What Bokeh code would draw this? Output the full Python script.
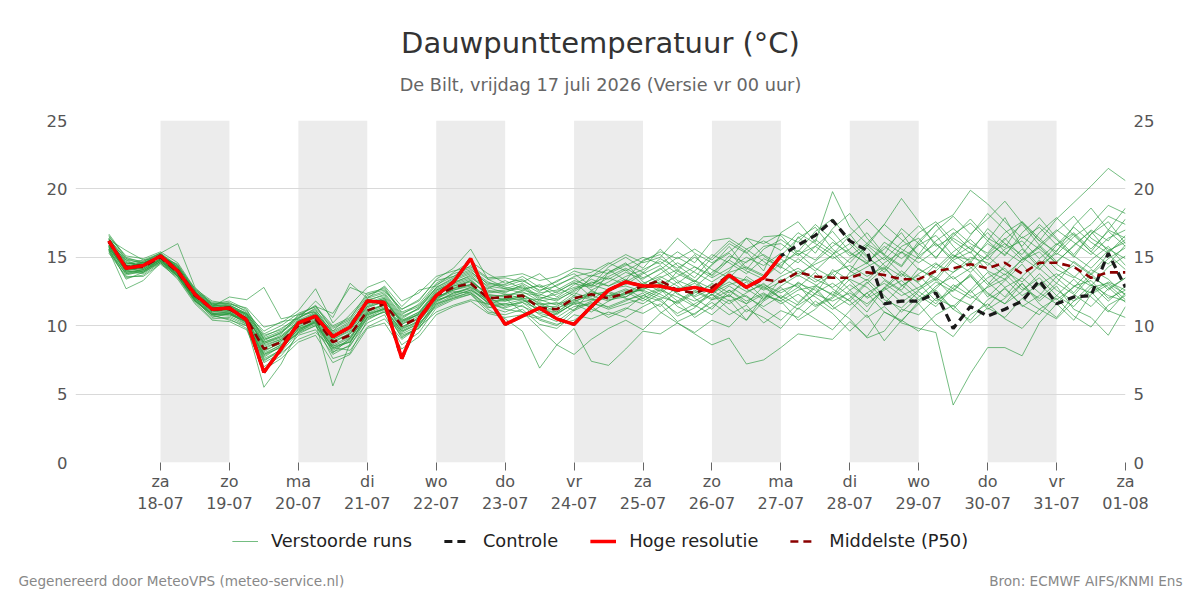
from bokeh.plotting import figure
from bokeh.layouts import column
from bokeh.models import (Range1d, FixedTicker, LinearAxis, BoxAnnotation, Label,
                          Legend, LegendItem)
from bokeh.embed import file_html
from bokeh.resources import INLINE

# ---------------- data ----------------
# hours since vr 17-07-2026 00:00, 6-hourly steps
hours = [6 * (i + 1) for i in range(60)]

tick_hours = [24, 48, 72, 96, 120, 144, 168, 192, 216, 240, 264, 288, 312, 336, 360]
tick_days = ["za", "zo", "ma", "di", "wo", "do", "vr", "za", "zo", "ma", "di", "wo", "do", "vr", "za"]
tick_dates = ["18-07", "19-07", "20-07", "21-07", "22-07", "23-07", "24-07", "25-07",
              "26-07", "27-07", "28-07", "29-07", "30-07", "31-07", "01-08"]
shaded_day_starts = [24, 72, 120, 168, 216, 264, 312]

hoge_resolutie = [16.2, 14.2, 14.4, 15.1, 14.0, 12.3, 11.2, 11.3, 10.4, 6.6,
                  8.3, 10.2, 10.7, 9.2, 9.9, 11.8, 11.7, 7.6, 10.5, 12.2,
                  13.2, 14.9, 12.0, 10.1, 10.7, 11.3, 10.5, 10.1, 11.4, 12.6,
                  13.2, 12.9, 12.9, 12.6, 12.8, 12.5, 13.7, 12.8, 13.5, 15.1]

controle = [16.2, 14.2, 14.4, 15.1, 14.0, 12.3, 11.2, 11.3, 10.4, 6.6,
            8.3, 10.2, 10.7, 9.2, 9.9, 11.8, 11.7, 7.6, 10.5, 12.2,
            13.2, 14.9, 12.0, 10.1, 10.7, 11.3, 10.5, 10.1, 11.4, 12.6,
            13.2, 12.9, 12.9, 12.6, 12.8, 12.5, 13.7, 12.8, 13.5, 15.1,
            15.9, 16.6, 17.7, 16.2, 15.5, 11.6, 11.8, 11.8, 12.4, 9.8,
            11.4, 10.7, 11.2, 11.8, 13.3, 11.6, 12.1, 12.2, 15.3, 12.8]

middelste_p50 = [16.1, 14.3, 14.3, 15.0, 13.9, 12.2, 11.2, 11.2, 10.5, 8.3,
                 8.8, 10.0, 10.5, 8.8, 9.3, 11.1, 11.6, 10.0, 10.6, 12.2,
                 12.8, 13.1, 12.0, 12.1, 12.2, 11.3, 11.2, 12.0, 12.3, 12.0,
                 12.4, 12.9, 13.3, 12.6, 12.4, 12.8, 13.7, 12.8, 13.4, 13.2,
                 13.9, 13.6, 13.5, 13.5, 13.9, 13.7, 13.4, 13.4, 14.0, 14.2,
                 14.5, 14.2, 14.6, 13.8, 14.6, 14.6, 14.3, 13.5, 13.9, 13.9]

verstoorde_runs = [
    [16.7, 15.0, 14.6, 15.3, 16.0, 12.8, 11.6, 11.8, 11.2, 9.0, 9.5, 10.6, 11.2, 9.4, 10.1, 11.9, 12.2, 10.6, 11.3, 12.8,
     13.5, 14.0, 12.8, 12.4, 13.0, 12.1, 11.8, 12.6, 13.4, 12.9, 13.6, 14.1, 14.7, 13.8, 13.2, 14.5, 15.3, 14.1, 15.6, 16.3,
     15.4, 16.9, 17.8, 16.2, 15.0, 14.1, 15.8, 16.4, 14.9, 16.7, 17.5, 16.2, 15.1, 16.8, 17.9, 16.4, 15.2, 16.7, 18.0, 17.4],
    [15.5, 12.7, 13.3, 14.6, 13.6, 11.9, 10.8, 10.4, 10.0, 5.5, 7.2, 9.6, 10.1, 7.6, 8.0, 10.4, 11.1, 9.3, 9.8, 11.6,
     12.0, 12.5, 11.4, 11.0, 11.5, 10.4, 10.0, 11.1, 11.7, 11.2, 11.6, 12.0, 12.7, 11.4, 10.8, 11.9, 12.6, 11.6, 12.9, 12.0,
     11.2, 12.4, 13.1, 12.2, 11.0, 12.8, 11.7, 12.6, 13.4, 12.1, 11.5, 12.9, 13.8, 12.6, 13.5, 12.2, 11.4, 12.8, 13.1, 12.3],
    [16.0, 14.8, 14.2, 15.2, 14.3, 12.5, 11.4, 12.1, 11.9, 12.8, 10.5, 10.8, 11.4, 10.9, 12.8, 12.3, 12.6, 11.2, 11.8, 13.4,
     14.2, 15.6, 13.4, 12.8, 12.6, 13.0, 12.4, 13.2, 12.1, 13.9, 14.6, 13.2, 12.5, 14.0, 15.2, 13.6, 14.8, 16.4, 15.1, 14.2,
     16.5, 15.3, 17.1, 18.2, 16.4, 15.1, 14.3, 16.0, 17.4, 15.8, 14.6, 16.2, 17.9, 15.7, 14.4, 15.9, 17.2, 16.1, 15.3, 16.6],
    [15.8, 13.9, 14.0, 14.8, 13.8, 12.0, 10.9, 11.0, 10.2, 7.6, 8.2, 9.8, 10.2, 5.6, 8.7, 10.9, 11.4, 9.8, 10.3, 11.9,
     12.7, 13.3, 12.2, 11.8, 12.0, 11.0, 10.8, 11.7, 11.4, 10.6, 11.2, 12.2, 11.8, 10.9, 11.6, 12.3, 11.2, 10.4, 11.8, 12.6,
     13.0, 11.5, 12.1, 13.4, 12.8, 11.6, 12.9, 13.7, 12.4, 11.2, 12.6, 13.9, 12.8, 11.4, 12.2, 13.6, 14.4, 13.0, 11.8, 12.9],
    [16.3, 15.5, 14.8, 15.0, 14.5, 12.6, 11.7, 11.5, 10.9, 9.6, 10.3, 10.5, 11.8, 10.6, 13.1, 12.0, 12.9, 11.4, 12.6, 12.9,
     13.9, 14.7, 13.8, 13.1, 13.4, 12.5, 13.3, 13.8, 12.9, 14.3, 15.0, 14.2, 15.6, 14.4, 13.5, 15.0, 16.2, 15.4, 14.0, 16.8,
     17.6, 16.1, 19.8, 17.2, 16.0, 17.4, 16.3, 15.2, 16.9, 18.0, 16.7, 17.8, 19.1, 17.5, 16.2, 15.4, 17.3, 18.6, 17.0, 16.4],
    [15.9, 14.0, 13.8, 14.7, 13.7, 12.0, 10.9, 10.8, 10.3, 8.0, 8.6, 9.4, 10.0, 8.2, 8.9, 10.6, 11.0, 9.5, 10.2, 11.4,
     12.0, 12.3, 11.2, 10.5, 9.6, 6.9, 8.6, 9.8, 7.4, 7.1, 8.3, 9.6, 9.4, 10.2, 9.5, 10.4, 9.9, 11.2, 10.6, 9.8,
     11.3, 10.5, 9.7, 11.1, 12.4, 11.0, 10.3, 11.8, 12.6, 11.2, 10.4, 11.9, 12.7, 11.5, 10.8, 12.2, 13.4, 12.1, 11.0, 12.4],
    [16.1, 14.4, 14.5, 15.1, 14.1, 12.3, 11.3, 11.1, 10.6, 8.7, 9.1, 10.2, 10.8, 9.0, 9.6, 11.3, 11.8, 10.2, 10.9, 12.4,
     12.9, 13.2, 12.4, 12.5, 12.8, 11.9, 11.5, 12.4, 12.0, 11.3, 11.8, 12.4, 11.0, 10.2, 9.4, 8.6, 9.1, 7.2, 7.5, 8.4,
     9.4, 9.2, 9.0, 10.3, 9.2, 11.0, 10.4, 9.6, 10.8, 11.5, 10.2, 11.3, 10.6, 12.0, 11.2, 10.5, 11.8, 12.5, 11.1, 10.6],
    [15.7, 14.1, 14.2, 14.9, 13.9, 12.1, 11.0, 11.3, 10.5, 8.4, 8.9, 9.9, 10.4, 8.6, 9.2, 11.0, 11.5, 9.9, 10.5, 12.1,
     12.6, 12.9, 11.8, 11.9, 12.1, 11.2, 11.0, 11.8, 12.2, 11.8, 12.3, 12.7, 13.1, 12.4, 11.5, 10.8, 11.9, 10.4, 12.2, 11.8,
     10.4, 11.2, 12.5, 11.8, 10.6, 11.4, 10.2, 9.8, 9.5, 4.2, 6.5, 8.4, 8.4, 7.8, 10.2, 11.6, 10.4, 12.3, 13.0, 11.9],
    [16.4, 14.6, 14.4, 15.2, 14.2, 12.4, 11.3, 11.4, 10.8, 8.8, 9.3, 10.3, 10.9, 9.2, 10.0, 11.6, 12.0, 10.4, 11.0, 12.6,
     13.2, 13.6, 12.5, 12.6, 12.9, 12.0, 12.3, 12.8, 13.1, 13.6, 14.2, 13.5, 14.1, 15.0, 14.3, 13.7, 15.1, 14.6, 15.8, 16.0,
     15.1, 16.3, 15.4, 14.0, 15.8, 17.4, 19.3, 17.6, 15.8, 16.5, 17.8, 16.4, 15.7, 17.6, 16.2, 17.8, 19.0, 20.2, 21.5, 20.6],
    [15.6, 13.4, 13.9, 14.6, 13.6, 11.8, 10.7, 10.5, 9.8, 7.0, 7.8, 9.3, 9.7, 7.9, 8.6, 10.2, 10.8, 8.6, 9.5, 11.3,
     11.9, 12.3, 11.0, 10.8, 11.2, 10.1, 9.8, 10.8, 10.5, 11.0, 10.6, 11.4, 12.0, 10.7, 11.3, 12.6, 11.8, 12.2, 11.2, 10.4,
     11.6, 12.8, 11.4, 12.6, 13.4, 12.2, 11.0, 12.1, 13.2, 12.5, 13.8, 12.4, 11.6, 13.1, 11.8, 12.9, 11.2, 10.6, 9.3, 11.4],
    [16.2, 14.2, 14.7, 15.3, 14.4, 12.5, 11.5, 11.7, 11.0, 9.2, 9.8, 10.6, 11.1, 9.8, 10.4, 12.0, 12.4, 10.8, 11.6, 13.1,
     13.8, 14.2, 13.0, 12.9, 13.3, 12.6, 12.9, 13.6, 13.9, 14.6, 14.0, 14.7, 15.4, 14.9, 15.6, 14.8, 16.0, 15.3, 16.5, 16.6,
     15.2, 15.8, 16.9, 15.4, 14.5, 16.1, 15.3, 16.8, 17.6, 16.2, 15.3, 17.1, 16.0, 15.2, 16.8, 17.9, 16.6, 15.4, 17.0, 18.6],
    [15.3, 13.6, 13.6, 14.5, 13.5, 11.7, 10.5, 10.6, 10.0, 7.3, 8.0, 9.0, 9.5, 8.4, 8.2, 9.9, 10.5, 9.0, 9.9, 11.0,
     11.5, 11.9, 11.6, 11.3, 11.7, 10.8, 10.3, 11.2, 11.8, 12.2, 12.7, 12.0, 11.4, 12.6, 13.3, 12.2, 13.5, 12.7, 11.9, 13.4,
     12.8, 13.9, 12.7, 11.8, 13.1, 14.2, 13.0, 11.9, 12.7, 13.9, 14.7, 13.2, 12.1, 13.6, 14.8, 13.5, 12.4, 13.8, 15.2, 14.1],
    [16.5, 15.1, 14.9, 15.4, 14.6, 12.7, 11.8, 11.6, 11.3, 9.9, 10.2, 11.1, 12.7, 10.2, 11.5, 12.8, 13.3, 11.8, 12.4, 13.6,
     14.0, 14.3, 13.4, 13.5, 13.2, 13.8, 12.8, 12.2, 13.6, 14.1, 13.3, 14.8, 15.2, 14.0, 13.2, 14.4, 15.8, 14.2, 13.6, 15.1,
     16.4, 17.2, 15.6, 14.6, 15.9, 14.8, 16.1, 17.3, 16.0, 14.9, 16.6, 18.2, 17.0, 15.8, 17.4, 16.3, 15.0, 16.7, 17.6, 16.0],
    [15.4, 13.8, 14.1, 14.8, 13.8, 11.9, 10.6, 10.9, 10.1, 7.9, 8.4, 9.7, 10.3, 8.0, 9.1, 10.8, 11.2, 9.6, 10.1, 11.7,
     12.4, 12.7, 11.7, 11.6, 11.9, 11.5, 11.7, 11.1, 12.6, 11.9, 12.1, 12.8, 12.3, 11.6, 12.4, 13.0, 12.1, 13.6, 12.8, 12.0,
     13.2, 12.3, 14.1, 13.3, 12.0, 12.7, 13.8, 12.6, 14.0, 15.2, 14.3, 13.0, 14.4, 15.6, 14.2, 13.1, 14.7, 13.8, 12.6, 13.5],
    [15.9, 14.3, 13.9, 14.9, 13.7, 12.2, 11.1, 10.9, 10.4, 8.1, 8.8, 10.1, 10.6, 8.8, 9.4, 11.2, 11.5, 10.1, 10.7, 12.0,
     12.5, 12.4, 11.5, 12.0, 11.0, 9.8, 8.6, 7.9, 9.0, 9.8, 10.4, 9.7, 10.9, 11.8, 10.6, 11.4, 12.3, 11.0, 11.9, 12.8,
     11.7, 12.9, 13.8, 12.6, 11.4, 12.8, 14.0, 13.1, 11.8, 12.6, 13.7, 12.1, 13.3, 14.5, 13.0, 11.9, 12.8, 14.1, 13.4, 12.2],
    [16.0, 14.5, 14.6, 15.1, 14.2, 12.3, 11.4, 11.3, 10.7, 8.5, 9.0, 10.4, 10.7, 9.1, 9.8, 11.4, 11.9, 10.3, 10.8, 12.3,
     13.0, 13.4, 12.2, 12.2, 12.5, 11.8, 12.0, 12.7, 13.0, 12.6, 13.2, 13.9, 13.0, 13.6, 14.3, 13.5, 14.2, 15.0, 14.4, 15.3,
     14.6, 15.8, 14.9, 15.6, 16.8, 15.2, 14.4, 16.2, 17.4, 18.1, 19.9, 18.9, 17.6, 16.4, 17.2, 15.9, 16.8, 15.6, 16.9, 15.8],
    [15.7, 14.0, 14.0, 14.7, 13.9, 12.0, 11.0, 11.0, 10.3, 7.7, 8.5, 9.5, 10.0, 8.5, 8.8, 10.7, 11.3, 9.4, 10.0, 11.8,
     12.3, 12.8, 12.1, 11.4, 11.8, 11.6, 11.0, 11.9, 11.3, 12.4, 12.0, 11.6, 12.4, 13.2, 12.0, 11.2, 12.6, 11.8, 12.4, 11.6,
     12.3, 11.4, 12.0, 13.0, 12.1, 13.3, 12.5, 11.6, 12.9, 13.6, 12.4, 13.5, 14.2, 12.8, 12.0, 13.1, 12.3, 11.4, 12.7, 13.5],
    [16.6, 14.9, 14.5, 15.0, 14.0, 12.4, 11.5, 11.4, 10.8, 9.3, 9.7, 10.7, 11.5, 9.6, 10.8, 12.2, 12.8, 11.0, 11.5, 12.7,
     13.3, 13.8, 12.9, 12.7, 12.4, 12.2, 13.0, 13.5, 12.6, 13.2, 13.9, 13.4, 14.2, 13.1, 14.0, 15.2, 14.6, 13.8, 14.9, 14.3,
     13.6, 14.7, 15.8, 16.7, 15.1, 13.9, 15.4, 14.6, 15.5, 16.8, 15.6, 14.8, 16.3, 17.4, 15.9, 14.7, 15.8, 17.0, 16.2, 17.8],
    [15.5, 13.5, 13.7, 14.6, 13.4, 11.6, 10.4, 10.3, 9.7, 6.8, 7.6, 8.8, 9.3, 7.3, 7.9, 9.8, 10.2, 8.3, 9.2, 10.8,
     11.4, 11.8, 10.9, 10.6, 10.8, 10.5, 10.1, 10.4, 11.2, 10.8, 11.3, 10.9, 11.6, 10.3, 10.9, 11.7, 10.8, 11.5, 10.2, 11.1,
     10.6, 11.8, 10.9, 9.6, 10.8, 8.9, 10.4, 11.6, 10.1, 9.2, 10.8, 11.6, 10.5, 9.8, 11.2, 12.0, 10.7, 9.9, 11.5, 12.2],
    [16.2, 14.7, 14.3, 15.2, 14.3, 12.5, 11.6, 11.2, 10.9, 9.0, 9.4, 10.8, 11.0, 9.3, 9.9, 11.7, 12.1, 10.5, 11.3, 12.6,
     13.1, 13.5, 12.7, 13.3, 12.7, 12.9, 12.1, 13.0, 13.7, 13.4, 14.1, 13.0, 13.8, 14.6, 13.9, 13.2, 14.0, 15.6, 14.7, 13.8,
     14.9, 14.0, 15.2, 16.0, 14.7, 15.6, 16.8, 15.0, 14.2, 15.4, 16.3, 15.1, 16.0, 14.8, 15.7, 16.9, 18.0, 16.4, 15.6, 14.9],
    [15.8, 14.2, 14.2, 14.8, 13.6, 11.8, 10.8, 10.7, 10.1, 7.4, 8.3, 9.6, 10.4, 8.3, 9.0, 10.9, 11.2, 9.7, 10.4, 11.9,
     12.2, 12.6, 11.9, 12.3, 12.3, 11.4, 11.4, 12.2, 11.9, 12.7, 12.9, 12.5, 11.9, 12.8, 12.2, 13.1, 12.4, 13.2, 12.0, 12.9,
     13.7, 13.0, 12.2, 13.9, 14.6, 13.4, 12.6, 14.2, 13.3, 14.8, 15.4, 14.0, 13.4, 14.9, 15.8, 14.5, 13.6, 12.9, 14.3, 15.1],
    [16.1, 14.3, 14.6, 15.0, 14.1, 12.3, 11.3, 11.3, 10.6, 8.6, 9.0, 10.1, 10.6, 9.0, 9.7, 11.4, 11.7, 10.4, 10.8, 12.3,
     12.8, 13.0, 12.1, 11.9, 12.3, 11.6, 11.6, 11.9, 12.5, 12.1, 12.6, 12.6, 13.4, 12.3, 11.8, 12.5, 13.2, 12.5, 13.0, 12.4,
     13.1, 12.6, 11.4, 10.5, 9.1, 9.6, 11.2, 10.8, 12.0, 11.4, 12.6, 11.2, 12.0, 13.1, 11.6, 10.6, 12.2, 13.6, 12.8, 11.7],
    [16.3, 14.5, 14.8, 15.3, 14.2, 12.4, 11.4, 11.5, 10.8, 8.9, 9.5, 10.4, 11.0, 9.5, 10.2, 11.8, 12.3, 10.7, 11.2, 12.8,
     13.4, 13.9, 13.1, 13.0, 13.6, 12.8, 13.2, 14.0, 13.6, 14.5, 15.2, 14.6, 15.0, 16.4, 15.3, 14.6, 15.4, 16.4, 16.0, 16.7,
     16.1, 17.4, 16.3, 15.1, 16.0, 15.2, 17.1, 16.0, 15.0, 16.4, 15.6, 16.8, 15.4, 14.6, 15.9, 17.0, 16.1, 15.2, 16.4, 17.0],
    [15.6, 13.8, 13.9, 14.7, 13.7, 11.9, 10.8, 10.9, 10.2, 7.8, 8.5, 9.7, 10.2, 8.4, 8.8, 10.5, 11.0, 9.2, 9.8, 11.5,
     12.1, 12.4, 11.3, 11.6, 11.4, 10.9, 10.6, 11.4, 11.6, 11.4, 11.9, 12.2, 12.8, 11.8, 12.6, 12.0, 12.9, 12.1, 11.4, 12.2,
     11.5, 12.3, 11.8, 12.4, 11.6, 12.6, 13.3, 12.2, 11.4, 12.8, 13.6, 12.3, 11.6, 12.5, 13.8, 12.6, 11.8, 13.0, 12.2, 11.8],
    [16.4, 14.8, 14.6, 15.1, 14.3, 12.6, 11.6, 11.6, 11.1, 9.4, 10.0, 10.9, 11.4, 10.0, 10.6, 12.1, 12.5, 11.2, 11.9, 13.3,
     13.6, 14.4, 13.5, 13.6, 13.8, 13.3, 13.6, 14.2, 14.1, 13.8, 14.4, 15.0, 14.5, 15.4, 14.6, 16.2, 16.4, 15.6, 16.2, 15.5,
     16.8, 16.0, 15.2, 16.6, 17.8, 16.5, 15.6, 14.9, 16.2, 17.1, 16.0, 15.3, 16.8, 17.6, 16.4, 15.2, 16.5, 17.4, 18.8, 18.2],
    [15.9, 14.1, 14.1, 14.9, 13.8, 12.1, 11.1, 11.2, 10.4, 8.2, 8.7, 9.9, 10.5, 8.7, 9.5, 11.0, 11.6, 9.9, 10.6, 12.1,
     12.6, 13.0, 12.0, 12.0, 11.9, 11.1, 11.3, 11.7, 12.4, 12.2, 12.3, 13.1, 13.6, 12.9, 12.1, 12.7, 13.7, 13.3, 12.6, 13.2,
     14.0, 13.2, 13.9, 14.4, 13.6, 14.3, 12.9, 13.8, 14.6, 13.4, 14.2, 15.1, 14.0, 13.2, 14.4, 15.3, 14.6, 13.7, 14.9, 15.7],
    [16.0, 14.6, 14.4, 15.2, 14.0, 12.2, 11.2, 11.0, 10.5, 8.8, 9.2, 10.3, 10.9, 9.6, 10.3, 11.6, 12.0, 10.1, 10.9, 12.5,
     13.1, 13.7, 12.6, 12.3, 12.0, 11.9, 12.5, 13.1, 12.8, 13.5, 13.0, 13.8, 14.4, 13.3, 12.8, 13.9, 14.8, 14.0, 13.4, 14.6,
     15.3, 14.2, 13.5, 14.9, 15.7, 14.4, 13.6, 15.1, 16.0, 14.7, 13.9, 15.2, 16.4, 15.0, 14.1, 15.5, 16.7, 15.4, 14.5, 15.9],
    [15.6, 13.7, 14.0, 14.7, 13.6, 11.8, 10.9, 10.8, 10.3, 7.5, 8.1, 9.5, 10.3, 8.1, 8.5, 10.6, 11.2, 9.1, 10.0, 11.6,
     12.2, 12.6, 11.7, 11.2, 11.0, 10.6, 10.9, 11.6, 11.0, 11.8, 12.5, 11.8, 12.6, 12.1, 11.4, 12.3, 11.6, 12.4, 13.1, 12.0,
     12.8, 12.1, 11.2, 12.0, 13.2, 11.9, 11.3, 12.5, 11.6, 13.0, 12.2, 11.4, 12.8, 13.5, 12.4, 11.6, 12.9, 13.3, 12.0, 12.6],
    [16.3, 14.9, 14.7, 15.2, 14.4, 12.7, 11.5, 11.5, 10.9, 9.1, 9.6, 10.5, 11.3, 9.9, 10.5, 12.4, 12.7, 10.9, 11.4, 13.0,
     13.6, 14.1, 13.2, 12.7, 13.1, 12.4, 12.6, 13.3, 12.9, 13.9, 14.5, 13.9, 14.9, 14.2, 15.0, 14.1, 13.5, 14.7, 15.2, 14.4,
     15.5, 14.8, 16.1, 15.3, 14.6, 15.8, 14.9, 15.9, 16.6, 15.1, 14.8, 16.0, 15.2, 16.5, 15.6, 14.6, 15.9, 16.9, 15.4, 16.3],
    [15.8, 14.0, 14.3, 14.9, 13.8, 12.0, 11.1, 11.1, 10.4, 8.3, 8.9, 10.0, 10.6, 8.9, 9.4, 11.1, 11.5, 9.8, 10.6, 12.0,
     12.7, 13.0, 11.8, 11.8, 12.2, 11.7, 11.2, 12.1, 12.3, 12.5, 12.1, 12.9, 13.2, 12.6, 13.1, 12.4, 13.0, 13.4, 12.7, 13.6,
     14.2, 13.4, 12.8, 13.6, 14.3, 15.0, 13.8, 13.2, 14.5, 13.9, 15.0, 14.6, 13.7, 14.8, 15.4, 14.1, 13.5, 14.8, 15.8, 14.4],
    [16.2, 14.4, 14.5, 15.0, 14.2, 12.2, 11.3, 11.4, 10.7, 8.7, 9.2, 10.2, 10.8, 9.2, 9.8, 11.5, 11.9, 10.3, 11.0, 12.4,
     12.9, 13.3, 12.3, 12.1, 12.6, 12.3, 11.9, 12.5, 13.2, 12.9, 13.4, 12.8, 13.5, 14.1, 13.3, 12.7, 13.9, 14.3, 13.7, 14.9,
     13.8, 14.5, 15.1, 14.0, 13.3, 14.6, 15.4, 14.1, 13.5, 15.0, 15.8, 14.4, 15.6, 16.2, 14.9, 16.0, 15.1, 14.2, 15.5, 16.1],
    [15.7, 13.9, 14.1, 14.8, 13.7, 11.9, 10.8, 10.9, 10.3, 7.9, 8.6, 9.8, 10.3, 8.5, 9.1, 10.8, 11.3, 9.6, 10.3, 11.8,
     12.4, 12.8, 11.6, 11.5, 11.7, 11.2, 10.9, 11.6, 11.9, 12.0, 12.4, 12.6, 12.1, 11.7, 12.5, 11.9, 12.2, 11.6, 12.3, 11.8,
     12.6, 12.9, 12.3, 11.5, 12.4, 13.1, 12.2, 12.8, 13.5, 12.7, 12.0, 12.8, 13.4, 12.2, 13.0, 13.8, 12.9, 12.4, 13.2, 12.6],
]

title_text = "Dauwpunttemperatuur (°C)"
subtitle_text = "De Bilt, vrijdag 17 juli 2026 (Versie vr 00 uur)"
footer_left = "Gegenereerd door MeteoVPS (meteo-service.nl)"
footer_right = "Bron: ECMWF AIFS/KNMI Ens"
legend_labels = ["Verstoorde runs", "Controle", "Hoge resolutie", "Middelste (P50)"]

FONT = "DejaVu Sans"
GREEN = "#2a9a3e"
RUN_STYLE = dict(line_color=GREEN, line_alpha=0.65, line_width=1)
CTRL_STYLE = dict(line_color="#1a1a1a", line_width=3.2, line_dash="8 5")
P50_STYLE = dict(line_color="#8b0000", line_width=2.6, line_dash="8 5")
HRES_STYLE = dict(line_color="#ff0000", line_width=3.5)

HEAD_H = 110
MAIN_BOTTOM = 55
FOOT_H = 600 - HEAD_H - 10 - 342 - MAIN_BOTTOM


def blank(height, x0):
    f = figure(width=1200, height=height, output_backend="svg", toolbar_location=None,
               x_range=Range1d(x0, x0 + 1200), y_range=Range1d(height, 0),
               x_axis_location=None, y_axis_location=None, min_border=0,
               frame_align=False,
               background_fill_color="white", border_fill_color="white")
    f.grid.visible = False
    f.outline_line_color = None
    return f


# ---------------- header ----------------
head = blank(HEAD_H, 0)
head.add_layout(Label(x=600, y=42, text=title_text, text_align="center", text_baseline="middle",
                      text_font=FONT, text_font_size="29px", text_color="#333333"))
head.add_layout(Label(x=600, y=84, text=subtitle_text, text_align="center", text_baseline="middle",
                      text_font=FONT, text_font_size="17.7px", text_color="#666666"))

# ---------------- main plot ----------------
p = figure(frame_width=1050, frame_height=342, output_backend="svg", toolbar_location=None,
           x_range=Range1d(-5.6, 360), y_range=Range1d(0, 25),
           min_border_left=75, min_border_right=75, min_border_top=10, min_border_bottom=MAIN_BOTTOM,
           frame_align=False,
           background_fill_color="white", border_fill_color="white")
p.outline_line_color = None

for s in shaded_day_starts:
    p.add_layout(BoxAnnotation(left=s, right=s + 24, fill_color="#ececec", fill_alpha=1.0,
                               line_color=None, level="image"))

p.xgrid.visible = False
p.ygrid.ticker = FixedTicker(ticks=[0, 5, 10, 15, 20, 25])
p.ygrid.grid_line_color = "#d9d9d9"
p.ygrid.grid_line_width = 1


def style_y(ax):
    ax.ticker = FixedTicker(ticks=[0, 5, 10, 15, 20, 25])
    ax.axis_line_color = None
    ax.major_tick_line_color = None
    ax.major_tick_in = 0
    ax.major_tick_out = 0
    ax.minor_tick_line_color = None
    ax.minor_tick_in = 0
    ax.minor_tick_out = 0
    ax.major_label_text_font = FONT
    ax.major_label_text_font_size = "16.5px"
    ax.major_label_text_color = "#555555"
    ax.major_label_standoff = 8


style_y(p.yaxis[0])
yr = LinearAxis()
style_y(yr)
p.add_layout(yr, "right")

xa = p.xaxis[0]
xa.ticker = FixedTicker(ticks=tick_hours)
xa.major_label_overrides = {h: f"{d}\n{dt}" for h, d, dt in zip(tick_hours, tick_days, tick_dates)}
xa.axis_line_color = None
xa.major_tick_line_color = "#666666"
xa.major_tick_in = 0
xa.major_tick_out = 8
xa.minor_tick_line_color = None
xa.major_label_text_font = FONT
xa.major_label_text_font_size = "16px"
xa.major_label_text_color = "#555555"
xa.major_label_standoff = 1

xs = [hours[:len(m)] for m in verstoorde_runs]
p.multi_line(xs, verstoorde_runs, **RUN_STYLE)
p.line(hours[:len(controle)], controle, **CTRL_STYLE)
p.line(hours[:len(middelste_p50)], middelste_p50, **P50_STYLE)
p.line(hours[:len(hoge_resolutie)], hoge_resolutie, **HRES_STYLE)

# ---------------- legend + footer ----------------
# the footer view lies at negative x, so its copies of the series stay out of sight
foot = blank(FOOT_H, -1200)
f_runs = foot.multi_line(xs, verstoorde_runs, **RUN_STYLE)
f_ctrl = foot.line(hours[:len(controle)], controle, **CTRL_STYLE)
f_hres = foot.line(hours[:len(hoge_resolutie)], hoge_resolutie, **HRES_STYLE)
f_p50 = foot.line(hours[:len(middelste_p50)], middelste_p50, **P50_STYLE)

legend = Legend(items=[LegendItem(label=t, renderers=[g])
                       for t, g in zip(legend_labels, [f_runs, f_ctrl, f_hres, f_p50])],
                orientation="horizontal", location="top_center",
                label_text_font=FONT, label_text_font_size="17.8px", label_text_color="#222222",
                glyph_width=26, label_standoff=13, spacing=32,
                border_line_color=None, background_fill_alpha=0, margin=13, padding=6)
foot.add_layout(legend)
foot.add_layout(Label(x=-1200 + 18, y=FOOT_H - 20, text=footer_left, text_align="left",
                      text_baseline="middle", text_font=FONT, text_font_size="13.6px",
                      text_color="#888888"))
foot.add_layout(Label(x=-18, y=FOOT_H - 20, text=footer_right, text_align="right",
                      text_baseline="middle", text_font=FONT, text_font_size="13.6px",
                      text_color="#888888"))

layout = column(head, p, foot, spacing=0)
open("out.html", "w").write(file_html(layout, INLINE))
